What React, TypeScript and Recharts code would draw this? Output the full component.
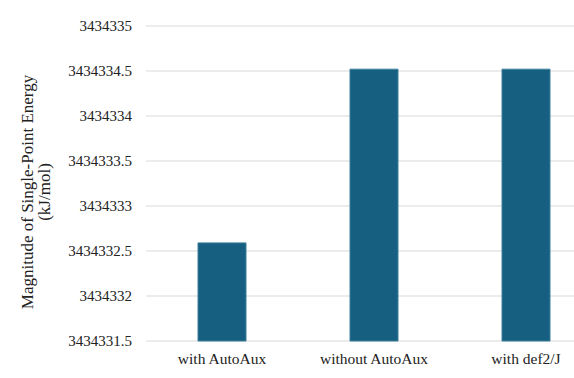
import { BarChart, Bar, XAxis, YAxis, CartesianGrid } from 'recharts'

const categories = ['with AutoAux', 'without AutoAux', 'with def2/J']
const energies = [3434332.59, 3434334.52, 3434334.52]
const yTicks = [3434331.5, 3434332, 3434332.5, 3434333, 3434333.5, 3434334, 3434334.5, 3434335]

const data = categories.map((name, i) => ({ name, energy: energies[i] }))

const FONT = '"Liberation Serif", "Times New Roman", serif'

/* two-line rotated y-axis title */
const YTitle = () => (
  <text
    transform="translate(33, 192) rotate(-90)"
    textAnchor="middle"
    fontFamily={FONT}
    fontSize={17}
    fill="#222"
  >
    <tspan x={0} y={0}>Magnitude of Single-Point Energy</tspan>
    <tspan x={0} y={17}>(kJ/mol)</tspan>
  </text>
)

export default function App() {
  return (
    <div style={{ position: 'absolute', left: 0, top: 0, width: 574, height: 378, overflow: 'hidden', background: '#fff', fontFamily: FONT }}>
      <BarChart width={612} height={378} data={data} style={{ fontFamily: FONT }}
        margin={{ top: 26, right: 10, bottom: 0, left: 0 }}>
        <CartesianGrid vertical={false} stroke="#d9d9d9" strokeWidth={1} />
        <XAxis dataKey="name" axisLine={false} tickLine={false} height={37} tickMargin={6}
          tick={{ fontSize: 15.5, fill: '#222', fontFamily: FONT }} />
        <YAxis domain={[3434331.5, 3434335]} ticks={yTicks} width={146} axisLine={false}
          tickLine={false} tickMargin={8} interval={0}
          tick={{ fontSize: 15, fill: '#222', fontFamily: FONT }}
          tickFormatter={(v: number) => String(v)} />
        <Bar dataKey="energy" fill="#175f80" stroke="#3a7f9c" strokeWidth={1} barSize={48}
          isAnimationActive={false} />
        <YTitle />
      </BarChart>
    </div>
  )
}
